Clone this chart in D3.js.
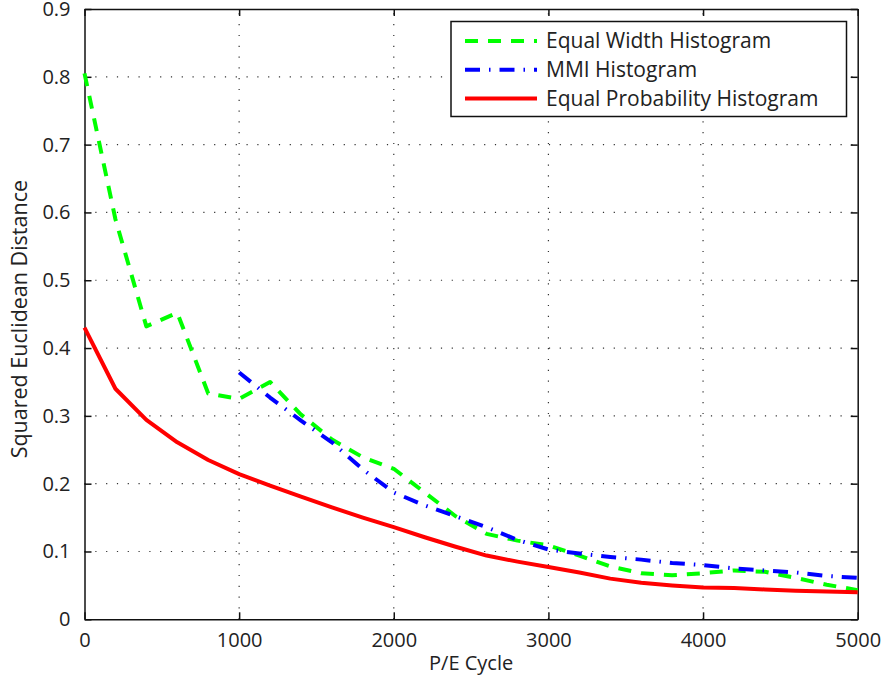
<!DOCTYPE html>
<html>
<head>
	<title>Squared Euclidean Distance vs P/E Cycle</title>
	<script src="https://d3js.org/d3.v7.min.js"></script>
	<style>
		body { margin: 0; background: #fff; }
		text { font-family: "Open Sans", "Noto Sans", sans-serif; fill: #222; }
	</style>
</head>
<body>
<svg width="884" height="682"></svg>

<script type="text/javascript">
// P/E cycle values for each series
var xEqual = [0, 200, 400, 600, 800, 1000, 1200, 1400, 1600, 1800, 2000, 2200, 2400,
	2600, 2800, 3000, 3200, 3400, 3600, 3800, 4000, 4200, 4400, 4600, 4800, 5000];
var xMMI = [1000, 1200, 1400, 1600, 1800, 2000, 2200, 2400, 2600, 2800, 3000,
	3200, 3400, 3600, 3800, 4000, 4200, 4400, 4600, 4800, 5000];

var equalWidth = [0.805, 0.59, 0.432, 0.452, 0.333, 0.325, 0.35, 0.302, 0.265, 0.239, 0.222,
	0.187, 0.152, 0.126, 0.116, 0.109, 0.094, 0.078, 0.068, 0.065, 0.068, 0.072, 0.07,
	0.061, 0.051, 0.043];
var mmi = [0.364, 0.327, 0.293, 0.261, 0.221, 0.187, 0.168, 0.152, 0.136, 0.117, 0.103,
	0.097, 0.092, 0.088, 0.083, 0.08, 0.075, 0.072, 0.069, 0.064, 0.061];
var equalProb = [0.43, 0.34, 0.294, 0.261, 0.235, 0.214, 0.197, 0.181, 0.165, 0.15, 0.136,
	0.121, 0.107, 0.094, 0.085, 0.077, 0.069, 0.06, 0.054, 0.05, 0.047, 0.046, 0.044,
	0.042, 0.041, 0.04];

var xTicks = [0, 1000, 2000, 3000, 4000, 5000];
var yTicks = [0, 0.1, 0.2, 0.3, 0.4, 0.5, 0.6, 0.7, 0.8, 0.9];
var legendNames = ['Equal Width Histogram', 'MMI Histogram', 'Equal Probability Histogram'];

// plot box (note: "top" is reserved on window, so use other names)
var plotLeft = 84.5, plotRight = 857.7, plotTop = 9, plotBottom = 619.3;

var svg = d3.select('svg');
var x = d3.scaleLinear().domain([0, 5000]).range([plotLeft, plotRight]);
var y = d3.scaleLinear().domain([0, 0.9]).range([plotBottom, plotTop]);

// dotted grid
var grid = svg.append('g');
grid.selectAll('.gx')
	.data(xTicks.slice(1, -1))
	.enter()
	.append('line')
	.attr('x1', function(d) { return x(d); })
	.attr('x2', function(d) { return x(d); })
	.attr('y1', plotBottom)
	.attr('y2', plotTop)
	.attr('stroke', '#333')
	.attr('stroke-width', 1.2)
	.attr('stroke-dasharray', '1.2,9.6');
grid.selectAll('.gy')
	.data(yTicks.slice(1, -1))
	.enter()
	.append('line')
	.attr('x1', plotLeft)
	.attr('x2', plotRight)
	.attr('y1', function(d) { return y(d); })
	.attr('y2', function(d) { return y(d); })
	.attr('stroke', '#333')
	.attr('stroke-width', 1.2)
	.attr('stroke-dasharray', '1.2,9.6');

// axes with inward ticks on all four sides
var fmtY = function(d) { return d === 0 ? '0' : d3.format('.1f')(d); };
svg.append('g')
	.attr('transform', 'translate(0,' + plotBottom + ')')
	.call(d3.axisBottom(x).tickValues(xTicks).tickSizeInner(-7).tickSizeOuter(0).tickPadding(14).tickFormat(d3.format('d')));
svg.append('g')
	.attr('transform', 'translate(0,' + plotTop + ')')
	.call(d3.axisTop(x).tickValues(xTicks).tickSizeInner(-7).tickSizeOuter(0).tickFormat(''));
svg.append('g')
	.attr('transform', 'translate(' + plotLeft + ',0)')
	.call(d3.axisLeft(y).tickValues(yTicks).tickSizeInner(-7).tickSizeOuter(0).tickPadding(14).tickFormat(fmtY));
svg.append('g')
	.attr('transform', 'translate(' + plotRight + ',0)')
	.call(d3.axisRight(y).tickValues(yTicks).tickSizeInner(-7).tickSizeOuter(0).tickFormat(''));

svg.selectAll('.domain').attr('stroke', '#111').attr('stroke-width', 1.5);
svg.selectAll('.tick line').attr('stroke', '#111').attr('stroke-width', 1.5);
svg.selectAll('.tick text')
	.style('font-family', '"Open Sans", sans-serif')
	.style('font-size', '20px')
	.attr('fill', '#222');

// axis titles
svg.append('text')
	.attr('x', (plotLeft + plotRight) / 2)
	.attr('y', 670)
	.attr('text-anchor', 'middle')
	.style('font-size', '20px')
	.text('P/E Cycle');
svg.append('text')
	.attr('transform', 'translate(27,' + ((plotTop + plotBottom) / 2 + 5) + ') rotate(-90)')
	.attr('text-anchor', 'middle')
	.style('font-size', '21.5px')
	.text('Squared Euclidean Distance');

// series
var line = d3.line()
	.x(function(d) { return x(d[0]); })
	.y(function(d) { return y(d[1]); });

var series = [
	{ xs: xEqual, ys: equalWidth, color: '#00ff00', dash: '13,10' },
	{ xs: xMMI, ys: mmi, color: '#0000ff', dash: '15,9,1.5,9' },
	{ xs: xEqual, ys: equalProb, color: '#ff0000', dash: null }
];

svg.selectAll('.series')
	.data(series)
	.enter()
	.append('path')
	.attr('d', function(s) { return line(d3.zip(s.xs, s.ys)); })
	.attr('fill', 'none')
	.attr('stroke', function(s) { return s.color; })
	.attr('stroke-width', 4)
	.attr('stroke-linejoin', 'round')
	.attr('stroke-dasharray', function(s) { return s.dash; });

// legend
var legend = svg.append('g');
legend.append('rect')
	.attr('x', 451)
	.attr('y', 21.5)
	.attr('width', 395.5)
	.attr('height', 95)
	.attr('fill', '#fff')
	.attr('stroke', '#111')
	.attr('stroke-width', 1.5);

var rows = legend.selectAll('.row')
	.data(series)
	.enter()
	.append('g')
	.attr('transform', function(d, i) { return 'translate(0,' + (41 + i * 28.7) + ')'; });
rows.append('line')
	.attr('x1', 465)
	.attr('x2', 537)
	.attr('stroke', function(s) { return s.color; })
	.attr('stroke-width', 4)
	.attr('stroke-dasharray', function(s) { return s.dash; });
rows.append('text')
	.attr('x', 546)
	.attr('dy', '0.35em')
	.style('font-size', '21px')
	.text(function(d, i) { return legendNames[i]; });
</script>
</body>
</html>
